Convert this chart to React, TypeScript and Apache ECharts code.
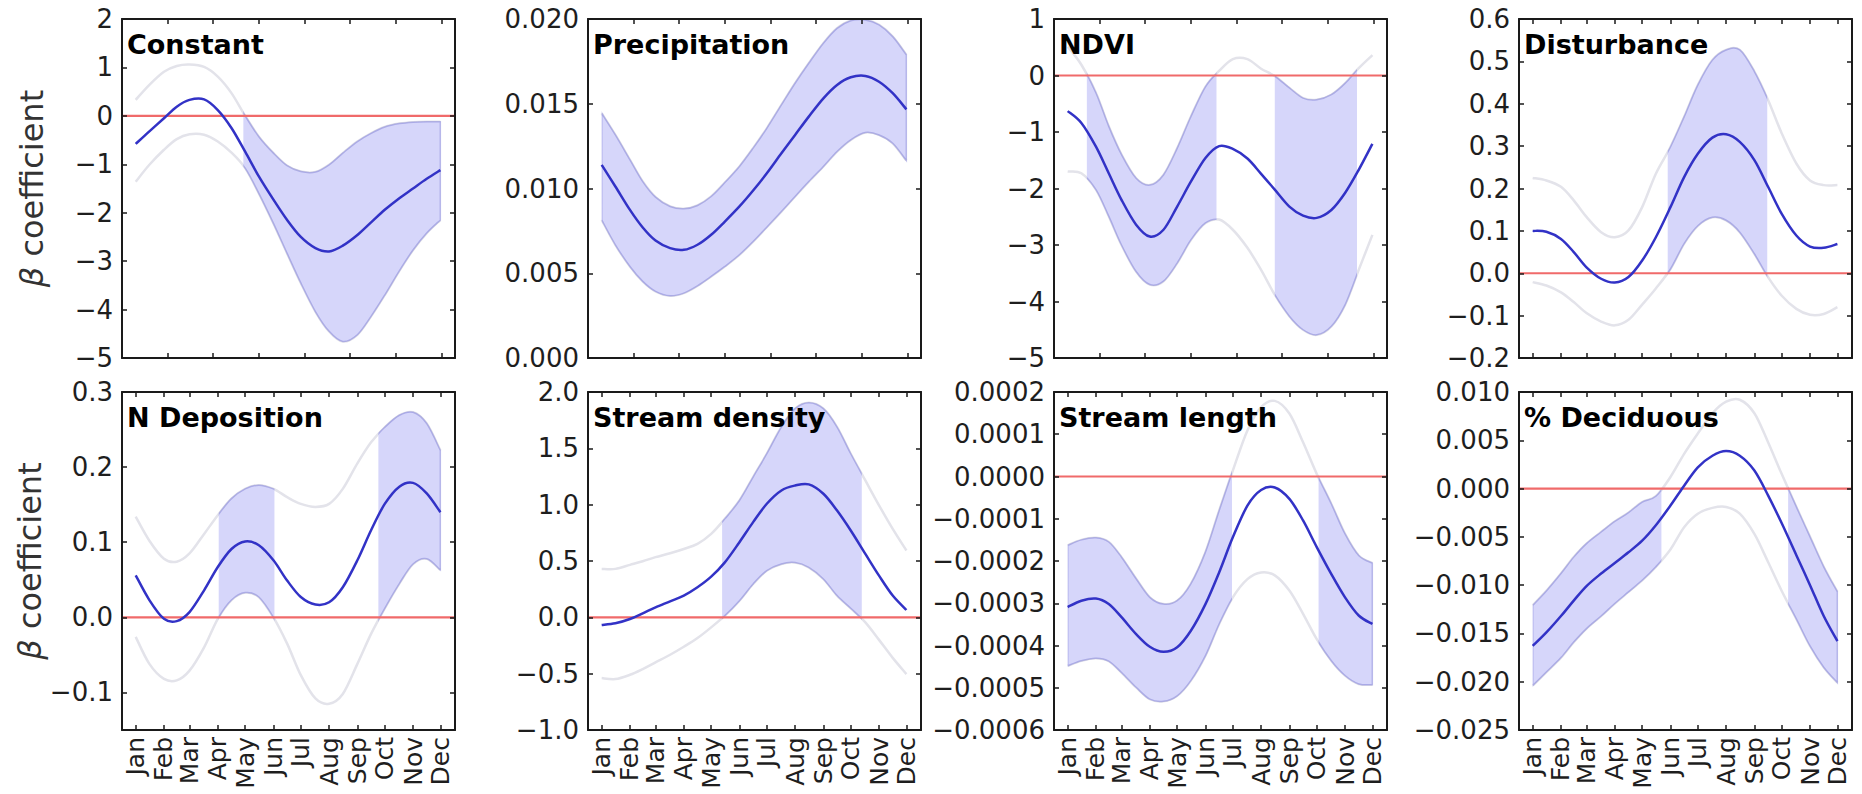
import React, { useEffect, useRef } from "react";
import * as echarts from "echarts";

// ---------- data ----------
const days = [15, 30, 46, 60, 74, 90, 105, 120, 135, 150, 166, 181, 196, 212, 227, 242, 258, 273, 288, 304, 319, 334, 349];
const monthNames = ["Jan", "Feb", "Mar", "Apr", "May", "Jun", "Jul", "Aug", "Sep", "Oct", "Nov", "Dec"];
const monthDays = [15, 46, 74, 105, 135, 166, 196, 227, 258, 288, 319, 349];
const fiftyDayTicks = [50, 100, 150, 200, 250, 300, 350];

const constantMean = [-0.58, -0.32, -0.05, 0.19, 0.33, 0.34, 0.12, -0.25, -0.74, -1.25, -1.73, -2.15, -2.5, -2.73, -2.8, -2.68, -2.46, -2.2, -1.94, -1.7, -1.5, -1.3, -1.12];
const constantUpper = [0.33, 0.64, 0.91, 1.03, 1.06, 1.01, 0.81, 0.47, 0.0, -0.43, -0.77, -1.03, -1.15, -1.16, -1.01, -0.77, -0.53, -0.36, -0.23, -0.16, -0.13, -0.12, -0.12];
const constantLower = [-1.36, -1.01, -0.7, -0.48, -0.38, -0.39, -0.53, -0.76, -1.08, -1.6, -2.22, -2.84, -3.45, -4.04, -4.45, -4.66, -4.52, -4.14, -3.7, -3.2, -2.77, -2.42, -2.15];
const constantSegments = [[133, 349]];
const constantTicks = [-5, -4, -3, -2, -1, 0, 1, 2];

const precipMean = [0.01139, 0.01012, 0.00874, 0.0077, 0.00693, 0.00648, 0.00638, 0.00668, 0.00727, 0.00805, 0.00894, 0.00988, 0.0109, 0.01208, 0.01316, 0.01424, 0.01532, 0.01611, 0.01656, 0.01664, 0.0163, 0.01562, 0.01467];
const precipUpper = [0.01444, 0.01316, 0.01169, 0.01041, 0.00949, 0.00894, 0.0088, 0.009, 0.00953, 0.01035, 0.0113, 0.01238, 0.01355, 0.01493, 0.01621, 0.01739, 0.01857, 0.01945, 0.0199, 0.01994, 0.01965, 0.01896, 0.01788];
const precipLower = [0.00815, 0.00668, 0.0054, 0.00452, 0.00393, 0.00367, 0.00383, 0.00426, 0.00481, 0.0054, 0.00609, 0.00687, 0.00772, 0.00864, 0.00953, 0.01041, 0.0113, 0.01218, 0.01287, 0.0133, 0.01316, 0.01267, 0.01165];
const precipSegments = [[15, 349]];
const precipTicks = [0, 0.005, 0.01, 0.015, 0.02];

const ndviMean = [-0.63, -0.84, -1.26, -1.73, -2.2, -2.64, -2.85, -2.73, -2.32, -1.88, -1.46, -1.25, -1.3, -1.47, -1.74, -2.02, -2.32, -2.48, -2.52, -2.38, -2.08, -1.67, -1.21];
const ndviUpper = [0.51, 0.19, -0.31, -0.9, -1.4, -1.82, -1.94, -1.76, -1.29, -0.73, -0.2, 0.08, 0.29, 0.29, 0.12, -0.01, -0.22, -0.4, -0.43, -0.34, -0.14, 0.13, 0.36];
const ndviLower = [-1.7, -1.73, -2.02, -2.49, -3.0, -3.47, -3.7, -3.64, -3.32, -2.91, -2.61, -2.55, -2.73, -3.05, -3.44, -3.88, -4.26, -4.5, -4.59, -4.44, -4.06, -3.44, -2.82];
const ndviSegments = [[36, 177], [242, 331]];
const ndviTicks = [-5, -4, -3, -2, -1, 0, 1];

const distMean = [0.1, 0.098, 0.081, 0.05, 0.014, -0.013, -0.022, -0.009, 0.03, 0.085, 0.156, 0.227, 0.282, 0.32, 0.328, 0.31, 0.267, 0.204, 0.14, 0.089, 0.063, 0.06, 0.069];
const distUpper = [0.225, 0.219, 0.204, 0.172, 0.133, 0.097, 0.085, 0.101, 0.156, 0.235, 0.298, 0.369, 0.444, 0.503, 0.527, 0.527, 0.476, 0.409, 0.33, 0.259, 0.219, 0.208, 0.208];
const distLower = [-0.021, -0.029, -0.045, -0.068, -0.094, -0.114, -0.123, -0.11, -0.074, -0.036, 0.01, 0.07, 0.112, 0.132, 0.125, 0.097, 0.046, -0.009, -0.053, -0.084, -0.098, -0.096, -0.08];
const distSegments = [[163, 271]];
const distTicks = [-0.2, -0.1, 0, 0.1, 0.2, 0.3, 0.4, 0.5, 0.6];

const ndepMean = [0.056, 0.023, -0.002, -0.005, 0.007, 0.036, 0.067, 0.091, 0.101, 0.096, 0.076, 0.049, 0.027, 0.017, 0.02, 0.04, 0.076, 0.116, 0.151, 0.174, 0.179, 0.165, 0.14];
const ndepUpper = [0.134, 0.102, 0.078, 0.074, 0.085, 0.111, 0.136, 0.158, 0.171, 0.176, 0.171, 0.16, 0.151, 0.147, 0.151, 0.171, 0.205, 0.233, 0.253, 0.269, 0.273, 0.258, 0.222];
const ndepLower = [-0.026, -0.062, -0.082, -0.084, -0.071, -0.04, -0.002, 0.023, 0.033, 0.027, 0.0, -0.035, -0.077, -0.108, -0.115, -0.102, -0.062, -0.022, 0.012, 0.045, 0.071, 0.078, 0.063];
const ndepSegments = [[106, 166], [281, 349]];
const ndepTicks = [-0.1, 0, 0.1, 0.2, 0.3];

const sdMean = [-0.068, -0.053, -0.015, 0.036, 0.089, 0.142, 0.193, 0.267, 0.361, 0.488, 0.667, 0.845, 1.008, 1.126, 1.17, 1.18, 1.097, 0.948, 0.771, 0.563, 0.37, 0.193, 0.065];
const sdUpper = [0.43, 0.43, 0.466, 0.498, 0.534, 0.569, 0.607, 0.652, 0.741, 0.874, 1.037, 1.245, 1.452, 1.689, 1.852, 1.905, 1.852, 1.689, 1.452, 1.215, 0.994, 0.785, 0.593];
const sdLower = [-0.539, -0.548, -0.51, -0.459, -0.4, -0.332, -0.261, -0.184, -0.089, 0.015, 0.148, 0.296, 0.415, 0.474, 0.486, 0.444, 0.341, 0.193, 0.08, -0.045, -0.2, -0.36, -0.504];
const sdSegments = [[147, 299]];
const sdTicks = [-1, -0.5, 0, 0.5, 1, 1.5, 2];

const slMean = [-3.09e-4, -2.94e-4, -2.89e-4, -3.02e-4, -3.33e-4, -3.73e-4, -4.03e-4, -4.15e-4, -4.04e-4, -3.65e-4, -3.02e-4, -2.27e-4, -1.44e-4, -0.69e-4, -0.32e-4, -0.26e-4, -0.53e-4, -1.04e-4, -1.67e-4, -2.31e-4, -2.86e-4, -3.29e-4, -3.49e-4];
const slUpper = [-1.63e-4, -1.5e-4, -1.45e-4, -1.55e-4, -1.91e-4, -2.42e-4, -2.86e-4, -3.02e-4, -2.94e-4, -2.54e-4, -1.79e-4, -0.81e-4, 0.14e-4, 1.09e-4, 1.64e-4, 1.79e-4, 1.49e-4, 0.81e-4, 0.06e-4, -0.65e-4, -1.36e-4, -1.87e-4, -2.05e-4];
const slLower = [-4.48e-4, -4.36e-4, -4.3e-4, -4.37e-4, -4.64e-4, -4.99e-4, -5.27e-4, -5.32e-4, -5.19e-4, -4.83e-4, -4.24e-4, -3.49e-4, -2.86e-4, -2.43e-4, -2.27e-4, -2.34e-4, -2.7e-4, -3.25e-4, -3.85e-4, -4.36e-4, -4.71e-4, -4.91e-4, -4.93e-4];
const slSegments = [[15, 194], [290, 349]];
const slTicks = [-0.0006, -0.0005, -0.0004, -0.0003, -0.0002, -0.0001, 0, 0.0001, 0.0002];

const decMean = [-16.3e-3, -14.9e-3, -13.2e-3, -11.6e-3, -10.1e-3, -8.8e-3, -7.7e-3, -6.6e-3, -5.4e-3, -3.8e-3, -1.76e-3, 0.3e-3, 2.2e-3, 3.4e-3, 3.88e-3, 3.4e-3, 1.87e-3, -0.7e-3, -3.6e-3, -6.9e-3, -10.0e-3, -13.2e-3, -15.8e-3];
const decUpper = [-12.1e-3, -10.6e-3, -8.8e-3, -7.1e-3, -5.7e-3, -4.5e-3, -3.4e-3, -2.5e-3, -1.4e-3, -0.8e-3, 1.2e-3, 3.6e-3, 5.7e-3, 7.8e-3, 9.0e-3, 9.2e-3, 7.8e-3, 4.8e-3, 1.5e-3, -1.9e-3, -5.0e-3, -8.1e-3, -10.7e-3];
const decLower = [-20.4e-3, -19.0e-3, -17.5e-3, -15.9e-3, -14.5e-3, -13.2e-3, -11.9e-3, -10.7e-3, -9.5e-3, -8.1e-3, -6.3e-3, -4.0e-3, -2.6e-3, -2.0e-3, -1.9e-3, -2.6e-3, -4.7e-3, -7.6e-3, -10.6e-3, -13.5e-3, -16.3e-3, -18.5e-3, -20.1e-3];
const decSegments = [[15, 155], [295, 349]];
const decTicks = [-0.025, -0.02, -0.015, -0.01, -0.005, 0, 0.005, 0.01];

// ---------- panels ----------
type Panel = {
  title: string; mean: number[]; upper: number[]; lower: number[]; segments: number[][];
  ticks: number[]; decimals: number; xTicks: number[]; xLabels: boolean; yName: boolean;
};
const panels: Panel[] = [
  { title: "Constant", mean: constantMean, upper: constantUpper, lower: constantLower, segments: constantSegments, ticks: constantTicks, decimals: 0, xTicks: fiftyDayTicks, xLabels: false, yName: true },
  { title: "Precipitation", mean: precipMean, upper: precipUpper, lower: precipLower, segments: precipSegments, ticks: precipTicks, decimals: 3, xTicks: fiftyDayTicks, xLabels: false, yName: false },
  { title: "NDVI", mean: ndviMean, upper: ndviUpper, lower: ndviLower, segments: ndviSegments, ticks: ndviTicks, decimals: 0, xTicks: fiftyDayTicks, xLabels: false, yName: false },
  { title: "Disturbance", mean: distMean, upper: distUpper, lower: distLower, segments: distSegments, ticks: distTicks, decimals: 1, xTicks: monthDays, xLabels: false, yName: false },
  { title: "N Deposition", mean: ndepMean, upper: ndepUpper, lower: ndepLower, segments: ndepSegments, ticks: ndepTicks, decimals: 1, xTicks: monthDays, xLabels: true, yName: true },
  { title: "Stream density", mean: sdMean, upper: sdUpper, lower: sdLower, segments: sdSegments, ticks: sdTicks, decimals: 1, xTicks: monthDays, xLabels: true, yName: false },
  { title: "Stream length", mean: slMean, upper: slUpper, lower: slLower, segments: slSegments, ticks: slTicks, decimals: 4, xTicks: monthDays, xLabels: true, yName: false },
  { title: "% Deciduous", mean: decMean, upper: decUpper, lower: decLower, segments: decSegments, ticks: decTicks, decimals: 3, xTicks: monthDays, xLabels: true, yName: false },
];
const yMins = [-5, 0, -5, -0.2, -0.15, -1, -0.0006, -0.025];
const yMaxs = [2, 0.02, 1, 0.6, 0.3, 2, 0.0002, 0.01];

// ---------- layout / style ----------
const colLefts = [122, 588, 1054, 1519];
const rowTops = [19, 392];
const rowHeights = [339, 338];
const panelWidth = 333;
const FONT = "DejaVu Sans";
const AXIS_COLOR = "#1a1a1a";
const MEAN_COLOR = "#3232c6";
const CI_COLOR = "#e3e3ea";
const BAND_FILL = "#d6d6fa";
const BAND_EDGE = "rgba(100,100,205,0.4)";
const ZERO_COLOR = "#f06a6a";

// Catmull-Rom spline through pixel points, as SVG path commands
function splineD(pts: number[][], moveFirst: boolean): string {
  const n = pts.length;
  let d = (moveFirst ? "M" : "L") + pts[0][0] + " " + pts[0][1];
  for (let i = 0; i < n - 1; i++) {
    const p0 = pts[i - 1] || pts[i];
    const p1 = pts[i];
    const p2 = pts[i + 1];
    const p3 = pts[i + 2] || pts[i + 1];
    const c1x = p1[0] + (p2[0] - p0[0]) / 6;
    const c1y = p1[1] + (p2[1] - p0[1]) / 6;
    const c2x = p2[0] - (p3[0] - p1[0]) / 6;
    const c2y = p2[1] - (p3[1] - p1[1]) / 6;
    d += "C" + c1x + " " + c1y + " " + c2x + " " + c2y + " " + p2[0] + " " + p2[1];
  }
  return d;
}

function fmt(v: number, decimals: number): string {
  const s = Math.abs(v) < 1e-12 ? (0).toFixed(decimals) : v.toFixed(decimals);
  return s.replace("-", "\u2212");
}

function buildOption() {
  const grid: any[] = [];
  const xAxis: any[] = [];
  const yAxis: any[] = [];
  const series: any[] = [];
  const title: any[] = [];

  panels.forEach((p, i) => {
    const row = i < 4 ? 0 : 1;
    const col = i % 4;
    const left = colLefts[col];
    const top = rowTops[row];
    grid.push({ left, top, width: panelWidth, height: rowHeights[row], containLabel: false });

    const axisLine = { show: true, onZero: false, lineStyle: { color: AXIS_COLOR, width: 2 } };
    const xCommon = {
      type: "value", gridIndex: i, min: 0, max: 365, z: 10,
      splitLine: { show: false }, axisLine,
      axisTick: { show: true, inside: true, length: 5, customValues: p.xTicks, lineStyle: { color: AXIS_COLOR, width: 1.5 } },
    };
    xAxis.push({
      ...xCommon, position: "bottom",
      axisLabel: p.xLabels
        ? {
            show: true, customValues: monthDays, rotate: 90, margin: 7,
            fontSize: 25, fontFamily: FONT, color: "#1e1e1e",
            formatter: (v: number) => monthNames[monthDays.indexOf(v)] || "",
          }
        : { show: false },
    });
    xAxis.push({ ...xCommon, position: "top", axisLabel: { show: false } });

    const yCommon = {
      type: "value", gridIndex: i, min: yMins[i], max: yMaxs[i], z: 10,
      splitLine: { show: false }, axisLine,
      axisTick: { show: true, inside: true, length: 5, customValues: p.ticks, lineStyle: { color: AXIS_COLOR, width: 1.5 } },
    };
    yAxis.push({
      ...yCommon, position: "left",
      axisLabel: {
        show: true, customValues: p.ticks, margin: 9, fontSize: 26, fontFamily: FONT, color: "#1e1e1e",
        formatter: (v: number) => fmt(v, p.decimals),
      },
      ...(p.yName
        ? {
            name: "{b|\u03b2} coefficient", nameLocation: "middle", nameRotate: 90, nameGap: 74,
            nameTextStyle: {
              fontSize: 32, fontFamily: FONT, color: "#333",
              rich: { b: { fontSize: 32, fontFamily: FONT, fontStyle: "italic", color: "#333" } },
            },
          }
        : {}),
    });
    yAxis.push({ ...yCommon, position: "right", axisLabel: { show: false } });

    const xi = i * 2;
    const yi = i * 2;

    // confidence bounds (grey where not significant) and shaded significant segments
    series.push({
      type: "custom", xAxisIndex: xi, yAxisIndex: yi, coordinateSystem: "cartesian2d",
      data: [[days[0], p.mean[0]]], silent: true, z: 1,
      renderItem: (params: any, api: any) => {
        const up = days.map((d, k) => api.coord([d, p.upper[k]]));
        const lo = days.map((d, k) => api.coord([d, p.lower[k]]));
        const upD = splineD(up, true);
        const loD = splineD(lo, true);
        const bandD = upD + splineD(lo.slice().reverse(), false) + "Z";
        const yTop = api.coord([0, yMaxs[i]])[1];
        const yBot = api.coord([0, yMins[i]])[1];
        const children: any[] = [
          { type: "path", shape: { pathData: upD }, style: { fill: "none", stroke: CI_COLOR, lineWidth: 2.5 } },
          { type: "path", shape: { pathData: loD }, style: { fill: "none", stroke: CI_COLOR, lineWidth: 2.5 } },
        ];
        p.segments.forEach((seg) => {
          const x0 = api.coord([seg[0], yMins[i]])[0];
          const x1 = api.coord([seg[1], yMins[i]])[0];
          children.push({
            type: "path",
            shape: { pathData: bandD },
            clipPath: { type: "rect", shape: { x: x0, y: yTop - 3, width: x1 - x0 + 1, height: yBot - yTop + 6 } },
            style: { fill: BAND_FILL, stroke: BAND_EDGE, lineWidth: 1.5 },
          });
        });
        return { type: "group", children };
      },
    });
    // zero reference line
    series.push({
      type: "line", xAxisIndex: xi, yAxisIndex: yi, data: [[0, 0], [365, 0]],
      showSymbol: false, silent: true, z: 3, lineStyle: { color: ZERO_COLOR, width: 2.2 },
    });
    // mean coefficient curve
    series.push({
      type: "custom", xAxisIndex: xi, yAxisIndex: yi, coordinateSystem: "cartesian2d",
      data: [[days[0], p.mean[0]]], silent: true, z: 4,
      renderItem: (params: any, api: any) => {
        const m = days.map((d, k) => api.coord([d, p.mean[k]]));
        return { type: "path", shape: { pathData: splineD(m, true) }, style: { fill: "none", stroke: MEAN_COLOR, lineWidth: 2.5 } };
      },
    });

    title.push({
      text: p.title, left: left + 5, top: top + 12, padding: 0,
      textStyle: { fontSize: 27, fontWeight: "bold", fontFamily: FONT, color: "#000" },
    });
  });

  return { animation: false, backgroundColor: "#ffffff", grid, xAxis, yAxis, series, title };
}

export default function App() {
  const ref = useRef<HTMLDivElement>(null);
  useEffect(() => {
    document.body.style.margin = "0";
    if (!ref.current) return;
    const chart = echarts.init(ref.current, undefined, { renderer: "svg" });
    chart.setOption(buildOption() as any);
    return () => chart.dispose();
  }, []);
  return <div ref={ref} style={{ width: 1862, height: 794 }} />;
}
